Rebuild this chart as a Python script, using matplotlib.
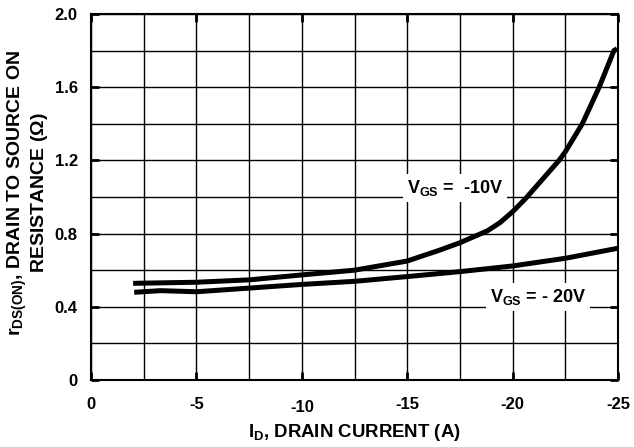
import matplotlib
matplotlib.use("Agg")
import matplotlib.pyplot as plt

plt.rcParams['font.family'] = ['Liberation Sans', 'DejaVu Sans']
plt.rcParams['font.weight'] = 'bold'
plt.rcParams['mathtext.fontset'] = 'custom'
plt.rcParams['mathtext.rm'] = 'Liberation Sans:bold'
plt.rcParams['mathtext.it'] = 'Liberation Sans:bold'
plt.rcParams['mathtext.bf'] = 'Liberation Sans:bold'

# Data (drain current magnitude in A, resistance in ohm)
id_10v = [2.0, 5.0, 7.5, 10.0, 12.5, 15.0, 16.55, 17.5, 18.8, 19.4, 20.0, 20.6, 22.2, 22.5, 23.3, 24.1, 24.8, 24.95]
r_10v = [0.528, 0.534, 0.547, 0.574, 0.600, 0.650, 0.71, 0.75, 0.815, 0.86, 0.92, 0.99, 1.2, 1.248, 1.4, 1.6, 1.8, 1.81]

id_20v = [2.05, 3.3, 5.0, 7.5, 10.0, 12.5, 15.0, 17.5, 20.0, 22.5, 25.0]
r_20v = [0.479, 0.488, 0.482, 0.502, 0.522, 0.539, 0.565, 0.592, 0.623, 0.665, 0.72]

xticks = [0, 5, 10, 15, 20, 25]
xticklabels = ['0', '-5', '-10', '-15', '-20', '-25']
yticks = [0, 0.4, 0.8, 1.2, 1.6, 2.0]
yticklabels = ['0', '0.4', '0.8', '1.2', '1.6', '2.0']

fig = plt.figure(figsize=(6.34, 4.47), dpi=100)
ax = fig.add_axes([0.1435, 0.150, 0.8315, 0.8187])

ax.set_xlim(0, 25)
ax.set_ylim(0, 2.0)
ax.set_xticks([i * 2.5 for i in range(11)], minor=True)
ax.set_yticks([i * 0.2 for i in range(11)], minor=True)
ax.set_xticks(xticks)
ax.set_yticks(yticks)
ax.set_xticklabels(xticklabels, fontsize=12, fontweight='bold')
ax.set_yticklabels(yticklabels, fontsize=12, fontweight='bold')
ax.grid(True, which='both', color='black', linewidth=1.0)
ax.tick_params(which='minor', length=0)
ax.tick_params(which='major', direction='in', length=6, width=2, top=True, right=True)
ax.tick_params(axis='x', which='major', pad=12)
ax.tick_params(axis='y', which='major', pad=9.5)
for lbl in ax.get_xticklabels():
    if lbl.get_text() == '-10':
        lbl.set_y(-0.01)
for s in ax.spines.values():
    s.set_linewidth(1.5)

ax.plot(id_10v, r_10v, color='black', linewidth=3.6, solid_capstyle='butt', zorder=3)
ax.plot(id_20v, r_20v, color='black', linewidth=3.6, solid_capstyle='butt', zorder=3)

ax.text(17.27, 1.05, r'V$_{GS}$ =  -10V', fontsize=13, ha='center', va='center',
        bbox=dict(facecolor='white', edgecolor='none', pad=3), zorder=4)
ax.text(21.2, 0.455, r'V$_{GS}$ = - 20V', fontsize=13, ha='center', va='center',
        bbox=dict(facecolor='white', edgecolor='none', pad=3), zorder=4)

ax.set_xlabel(r'I$_{D}$, DRAIN CURRENT (A)', fontsize=13.4, fontweight='bold', labelpad=5)

fig.text(0.044, 0.568, 'r$_{DS(ON)}$, DRAIN TO SOURCE ON\nRESISTANCE ($\\Omega$)',
         rotation=90, fontsize=14, ha='center', va='center', multialignment='center',
         linespacing=1.05)

fig.savefig('out.png', dpi=100)
